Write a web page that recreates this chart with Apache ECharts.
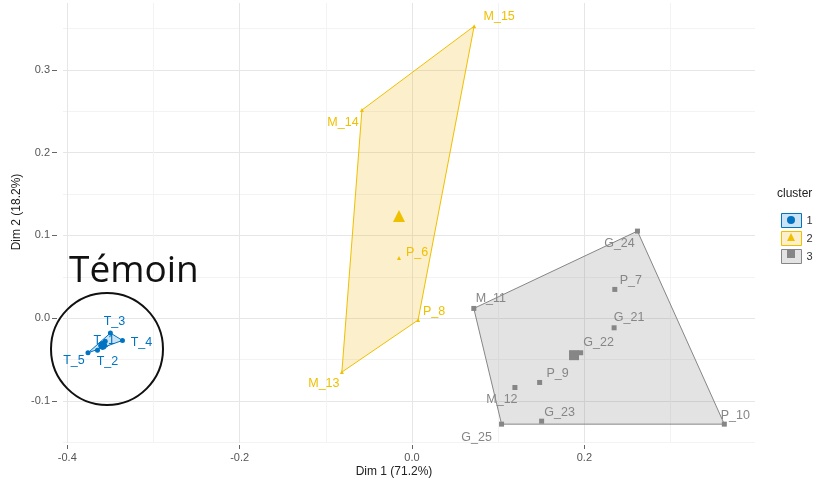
<!DOCTYPE html>
<html>
<head>
<meta charset="utf-8">
<script src="https://cdn.jsdelivr.net/npm/echarts@6/dist/echarts.min.js"></script>
<style>
  html, body { margin: 0; padding: 0; background: #fff; }
  #main { width: 813px; height: 480px; }
</style>
</head>
<body>
<div id="main"></div>
<script>
// axis ticks
const xTicks = [-0.4, -0.2, 0, 0.2];
const xMinorTicks = [-0.3, -0.1, 0.1, 0.3];
const yTicks = [-0.1, 0, 0.1, 0.2, 0.3];
const yMinorTicks = [-0.15, -0.05, 0.05, 0.15, 0.25, 0.35];

const clusterNames = ['1', '2', '3'];

// cluster 1
const names1 = ['T_1', 'T_2', 'T_3', 'T_4', 'T_5'];
const dim1_c1 = [-0.356, -0.365, -0.350, -0.336, -0.376];
const dim2_c1 = [-0.028, -0.039, -0.018, -0.027, -0.042];
const hull1 = ['T_5', 'T_3', 'T_4'];
const center1 = [-0.359, -0.033];

// cluster 2
const names2 = ['M_13', 'M_14', 'M_15', 'P_6', 'P_8'];
const dim1_c2 = [-0.0814, -0.0581, 0.0721, -0.0151, 0.0070];
const dim2_c2 = [-0.0653, 0.2516, 0.3530, 0.0726, -0.0024];
const hull2 = ['M_15', 'M_14', 'M_13', 'P_8'];
const center2 = [-0.0151, 0.1234];

// cluster 3
const names3 = ['G_21', 'G_22', 'G_23', 'G_24', 'G_25', 'M_11', 'M_12', 'P_7', 'P_9', 'P_10'];
const dim1_c3 = [0.2345, 0.1957, 0.1504, 0.2616, 0.1039, 0.0717, 0.1194, 0.2353, 0.1481, 0.3624];
const dim2_c3 = [-0.0117, -0.0419, -0.1246, 0.1052, -0.1282, 0.0117, -0.0839, 0.0347, -0.0778, -0.1282];
const hull3 = ['M_11', 'G_24', 'P_10', 'G_25'];
const center3 = [0.188, -0.0448];

// label placement (pixels from the point), like ggrepel did it
const labelShift = {
  T_1: [-1, -1], T_2: [10, 11], T_3: [4, -11], T_4: [19, 2], T_5: [-14, 8],
  M_13: [-18, 11], M_14: [-19, 13], M_15: [25, -10], P_6: [18, -6], P_8: [16, -9],
  G_21: [15, -10], G_22: [18, -10], G_23: [18, -9], G_24: [-18, 12], G_25: [-25, 13],
  M_11: [17, -10], M_12: [-13, 12], P_7: [16, -9], P_9: [18, -9], P_10: [11, -9]
};

const colors = ['#0073C2', '#EFC000', '#868686'];
const fills = ['rgba(0,115,194,0.2)', 'rgba(240,182,20,0.22)', 'rgba(134,134,134,0.23)'];
const shapes = ['circle', 'triangle', 'rect'];
const FONT = '"Liberation Sans", Arial, sans-serif';

const chart = echarts.init(document.getElementById('main'));

function hullSeries(k, hull, names, xs, ys) {
  const pts = hull.map(n => {
    const i = names.indexOf(n);
    return [xs[i], ys[i]];
  });
  return {
    type: 'custom',
    name: clusterNames[k],
    silent: true,
    z: 1,
    data: pts,
    renderItem: function (params, api) {
      if (params.dataIndex !== 0) return;
      return {
        type: 'polygon',
        shape: { points: pts.map(p => api.coord(p)) },
        style: { fill: fills[k], stroke: colors[k], lineWidth: 1 }
      };
    }
  };
}

function pointSeries(k, names, xs, ys, size) {
  return {
    type: 'scatter',
    name: clusterNames[k],
    symbol: shapes[k],
    symbolSize: size,
    z: 3,
    itemStyle: { color: colors[k], opacity: 1 },
    data: names.map((n, i) => ({
      name: n,
      value: [xs[i], ys[i]],
      label: { offset: labelShift[n] }
    })),
    label: {
      show: true,
      position: 'inside',
      formatter: '{b}',
      color: colors[k],
      fontFamily: FONT,
      fontSize: 12.5
    }
  };
}

function centerSeries(k, c, size) {
  return {
    type: 'scatter',
    name: clusterNames[k],
    symbol: shapes[k],
    symbolSize: size,
    z: 4,
    itemStyle: { color: colors[k], opacity: 1 },
    data: [c]
  };
}

const tickLabel = { color: '#555', fontSize: 11, fontFamily: FONT };

const option = {
  backgroundColor: '#fff',
  animation: false,
  grid: { left: 63, right: 58, top: 3, bottom: 37, outerBoundsMode: 'none' },
  title: {
    text: 'cluster', left: 772, top: 183,
    textStyle: { fontSize: 12, fontWeight: 'normal', color: '#222', fontFamily: FONT }
  },
  legend: [
    {
      left: 776, top: 208, orient: 'vertical',
      itemWidth: 20, itemHeight: 14, itemGap: 3,
      selectedMode: false,
      textStyle: { fontSize: 11, color: '#333', fontFamily: FONT },
      data: clusterNames.map((n, k) => ({
        name: n, icon: 'rect',
        itemStyle: { color: fills[k], borderColor: colors[k], borderWidth: 1 }
      }))
    },
    {
      left: 782, top: 211, orient: 'vertical',
      itemWidth: 8, itemHeight: 8, itemGap: 9,
      selectedMode: false,
      formatter: () => '',
      textStyle: { fontSize: 6, lineHeight: 8 },
      data: clusterNames.map((n, k) => ({
        name: n, icon: shapes[k],
        itemStyle: { color: colors[k], borderWidth: 0 }
      }))
    }
  ],
  xAxis: [
    {
      type: 'value', min: -0.405, max: 0.398, offset: 2,
      axisLine: { show: false, onZero: false },
      axisTick: { show: true, length: 4, customValues: xTicks, lineStyle: { color: '#666' } },
      axisLabel: { customValues: xTicks, margin: 7, formatter: v => v.toFixed(1), ...tickLabel },
      splitLine: { show: true, lineStyle: { color: '#e6e6e6', width: 1 } },
      name: 'Dim 1 (71.2%)', nameLocation: 'middle', nameGap: 21, nameMoveOverlap: false,
      nameTextStyle: { fontSize: 12, color: '#222', fontFamily: FONT, padding: [0, 30, 0, 0] }
    },
    {
      type: 'value', min: -0.405, max: 0.398,
      axisLine: { show: false, onZero: false },
      axisTick: { show: false, customValues: xMinorTicks },
      axisLabel: { show: false },
      splitLine: { show: true, lineStyle: { color: '#f3f3f3', width: 1 } }
    }
  ],
  yAxis: [
    {
      type: 'value', min: -0.151, max: 0.381, offset: 6,
      axisLine: { show: false, onZero: false },
      axisTick: { show: true, length: 5, customValues: yTicks, lineStyle: { color: '#666' } },
      axisLabel: { customValues: yTicks, margin: 7, formatter: v => v.toFixed(1), ...tickLabel },
      splitLine: { show: true, lineStyle: { color: '#e6e6e6', width: 1 } },
      name: 'Dim 2 (18.2%)', nameLocation: 'middle', nameGap: 34, nameMoveOverlap: false,
      nameTextStyle: { fontSize: 12, color: '#222', fontFamily: FONT, padding: [0, 0, 0, 22] }
    },
    {
      type: 'value', min: -0.151, max: 0.381,
      axisLine: { show: false, onZero: false },
      axisTick: { show: false, customValues: yMinorTicks },
      axisLabel: { show: false },
      splitLine: { show: true, lineStyle: { color: '#f3f3f3', width: 1 } }
    }
  ],
  series: [
    hullSeries(0, hull1, names1, dim1_c1, dim2_c1),
    hullSeries(1, hull2, names2, dim1_c2, dim2_c2),
    hullSeries(2, hull3, names3, dim1_c3, dim2_c3),
    pointSeries(0, names1, dim1_c1, dim2_c1, 5),
    pointSeries(1, names2, dim1_c2, dim2_c2, 4),
    pointSeries(2, names3, dim1_c3, dim2_c3, 5),
    centerSeries(0, center1, 9),
    centerSeries(1, center2, 12),
    centerSeries(2, center3, 10)
  ],
  graphic: [
    {
      type: 'text', left: 69, top: 253, z: 10,
      style: { text: 'Témoin', fontSize: 37, fontFamily: '"Open Sans", "Noto Sans", sans-serif', fill: '#111' }
    },
    {
      type: 'circle', z: 10,
      shape: { cx: 107, cy: 349, r: 56 },
      style: { fill: 'none', stroke: '#111', lineWidth: 2 }
    }
  ]
};

chart.setOption(option);
</script>
</body>
</html>
